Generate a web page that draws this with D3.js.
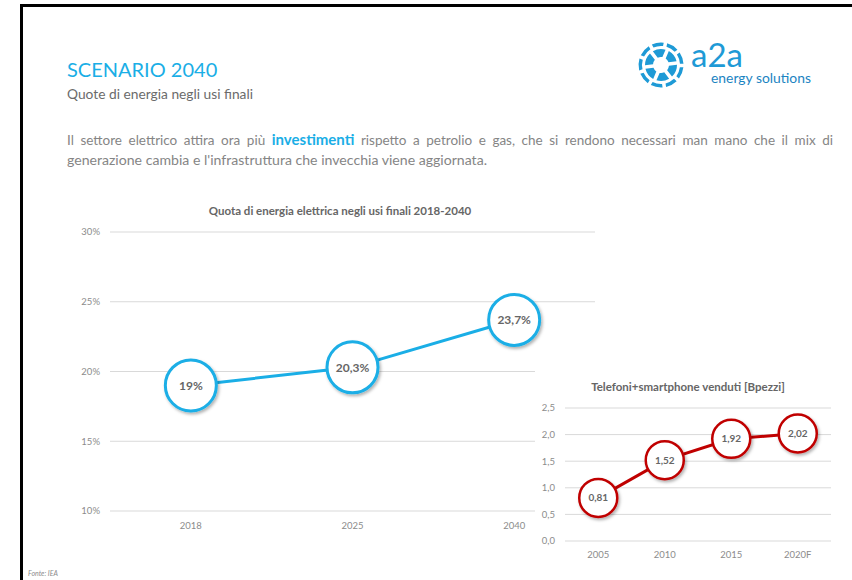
<!DOCTYPE html>
<html>
<head>
<meta charset="utf-8">
<script src="https://cdn.jsdelivr.net/npm/d3@7"></script>
<style>
  body { margin: 0; background: #fff; }
  svg { display: block; font-family: Lato, "Open Sans", sans-serif; }
</style>
</head>
<body>
<div id="chart"></div>
<script>
// ------------------------------------------------------------------
// Data
var shareYears = ["2018", "2025", "2040"];
var shareValues = [19, 20.3, 23.7];
var shareTicks = [10, 15, 20, 25, 30];

var phoneYears = ["2005", "2010", "2015", "2020F"];
var phoneValues = [0.81, 1.52, 1.92, 2.02];
var phoneTicks = [0, 0.5, 1, 1.5, 2, 2.5];

var width = 852, height = 580;
var blue = "#1aaee6", red = "#c00000", grid = "#d9d9d9", txt = "#858585";

var svg = d3.select("#chart").append("svg")
  .attr("width", width)
  .attr("height", height);

var defs = svg.append("defs");
var f = defs.append("filter").attr("id", "shadow")
  .attr("x", "-30%").attr("y", "-30%").attr("width", "160%").attr("height", "160%");
f.append("feDropShadow").attr("dx", 1.5).attr("dy", 2).attr("stdDeviation", 1.5)
  .attr("flood-color", "#000").attr("flood-opacity", 0.3);

// frame (left + top)
svg.append("path")
  .attr("d", "M21.5,580 V5.5 H852")
  .attr("fill", "none").attr("stroke", "#000").attr("stroke-width", 3);

// ------------------------------------------------------------------
// Header
svg.append("text").attr("x", 67).attr("y", 77)
  .attr("font-size", 20).attr("fill", blue).text("SCENARIO 2040");
svg.append("text").attr("x", 67).attr("y", 99)
  .attr("font-size", 13.5).attr("fill", "#6b6b6b")
  .attr("textLength", 186).attr("lengthAdjust", "spacingAndGlyphs")
  .text("Quote di energia negli usi finali");

// paragraph : first line justified by word spacing
var p1 = svg.append("text").attr("x", 67).attr("y", 145)
  .attr("font-size", 13.5).attr("fill", txt);
p1.append("tspan").text("Il settore elettrico attira ora più ");
p1.append("tspan").attr("font-weight", "bold").attr("fill", blue).attr("font-size", 15).text("investimenti");
p1.append("tspan").text(" rispetto a petrolio e gas, che si rendono necessari man mano che il mix di");
var natural = p1.node().getComputedTextLength();
var nSpaces = p1.text().split(" ").length - 1;
if (natural < 766) {
  p1.attr("word-spacing", (766 - natural) / nSpaces);
} else {
  p1.attr("textLength", 766).attr("lengthAdjust", "spacingAndGlyphs");
}
svg.append("text").attr("x", 67).attr("y", 165)
  .attr("font-size", 13.5).attr("fill", txt)
  .attr("textLength", 420).attr("lengthAdjust", "spacingAndGlyphs")
  .text("generazione cambia e l'infrastruttura che invecchia viene aggiornata.");

// logo
var logo = svg.append("g").attr("transform", "translate(661,65)");
var logoBlue = "#1e9ad6";
var outerArc = d3.arc().innerRadius(19).outerRadius(22.5).padAngle(0.12);
var innerArc = d3.arc().innerRadius(8).outerRadius(16).padAngle(0.2);
d3.range(9).forEach(function(i) {
  logo.append("path").attr("fill", logoBlue)
    .attr("d", outerArc({ startAngle: i * 2 * Math.PI / 9 + 0.2, endAngle: (i + 1) * 2 * Math.PI / 9 + 0.2 }));
});
d3.range(6).forEach(function(i) {
  logo.append("path").attr("fill", logoBlue)
    .attr("d", innerArc({ startAngle: i * Math.PI / 3 + 0.4, endAngle: (i + 1) * Math.PI / 3 + 0.4 }));
});
svg.append("text").attr("x", 691).attr("y", 67)
  .attr("font-size", 33).attr("fill", logoBlue)
  .attr("textLength", 52).attr("lengthAdjust", "spacingAndGlyphs").text("a2a");
svg.append("text").attr("x", 711).attr("y", 83)
  .attr("font-size", 13.5).attr("fill", "#1b84c2")
  .attr("textLength", 100).attr("lengthAdjust", "spacingAndGlyphs").text("energy solutions");

// ------------------------------------------------------------------
// Chart 1 : quota energia elettrica
var x1 = d3.scalePoint().domain(shareYears).range([110, 595]).padding(0.5);
var y1 = d3.scaleLinear().domain([10, 30]).range([511, 232]);

var c1 = svg.append("g");
c1.append("text").attr("x", 340).attr("y", 215).attr("text-anchor", "middle")
  .attr("font-size", 11.5).attr("font-weight", "bold").attr("fill", "#666")
  .text("Quota di energia elettrica negli usi finali 2018-2040");

c1.append("g").selectAll("line").data(shareTicks).enter().append("line")
  .attr("x1", 110).attr("x2", 595)
  .attr("y1", function(d) { return y1(d); }).attr("y2", function(d) { return y1(d); })
  .attr("stroke", grid).attr("stroke-width", 1);
c1.append("g").selectAll("text").data(shareTicks).enter().append("text")
  .attr("x", 100).attr("y", function(d) { return y1(d); }).attr("dy", "0.35em")
  .attr("text-anchor", "end").attr("font-size", 9.5).attr("fill", "#8c8c8c")
  .text(function(d) { return d + "%"; });
c1.append("g").selectAll("text").data(shareYears).enter().append("text")
  .attr("x", function(d) { return x1(d); }).attr("y", 526).attr("dy", "0.35em")
  .attr("text-anchor", "middle").attr("font-size", 9.5).attr("fill", "#8c8c8c")
  .text(function(d) { return d; });

var line1 = d3.line().x(function(d, i) { return x1(shareYears[i]); }).y(function(d) { return y1(d); });
c1.append("path").datum(shareValues).attr("d", line1)
  .attr("fill", "none").attr("stroke", blue).attr("stroke-width", 3);

var pts1 = c1.selectAll(".pt").data(shareValues).enter().append("g")
  .attr("transform", function(d, i) { return "translate(" + x1(shareYears[i]) + "," + y1(d) + ")"; });
pts1.append("circle").attr("r", 25.5).attr("fill", "#fff")
  .attr("stroke", blue).attr("stroke-width", 3).attr("filter", "url(#shadow)");
pts1.append("text").attr("dy", "0.35em").attr("text-anchor", "middle")
  .attr("font-size", 12).attr("font-weight", "bold").attr("fill", "#666")
  .text(function(d) { return String(d).replace(".", ",") + "%"; });

// ------------------------------------------------------------------
// Chart 2 : telefoni venduti
var x2 = d3.scalePoint().domain(phoneYears).range([565, 831]).padding(0.5);
var y2 = d3.scaleLinear().domain([0, 2.5]).range([541, 408]);

var c2 = svg.append("g");
c2.append("rect").attr("x", 535).attr("y", 366).attr("width", 317).attr("height", 214).attr("fill", "#fff");
c2.append("text").attr("x", 688).attr("y", 391).attr("text-anchor", "middle")
  .attr("font-size", 11.5).attr("font-weight", "bold").attr("fill", "#666")
  .text("Telefoni+smartphone venduti [Bpezzi]");

c2.append("g").selectAll("line").data(phoneTicks).enter().append("line")
  .attr("x1", 565).attr("x2", 831)
  .attr("y1", function(d) { return y2(d); }).attr("y2", function(d) { return y2(d); })
  .attr("stroke", grid).attr("stroke-width", 1);
c2.append("g").selectAll("text").data(phoneTicks).enter().append("text")
  .attr("x", 555).attr("y", function(d) { return y2(d); }).attr("dy", "0.35em")
  .attr("text-anchor", "end").attr("font-size", 9.5).attr("fill", "#8c8c8c")
  .text(function(d) { return d3.format(".1f")(d).replace(".", ","); });
c2.append("g").selectAll("text").data(phoneYears).enter().append("text")
  .attr("x", function(d) { return x2(d); }).attr("y", 555).attr("dy", "0.35em")
  .attr("text-anchor", "middle").attr("font-size", 9.5).attr("fill", "#8c8c8c")
  .text(function(d) { return d; });

var line2 = d3.line().x(function(d, i) { return x2(phoneYears[i]); }).y(function(d) { return y2(d); });
c2.append("path").datum(phoneValues).attr("d", line2)
  .attr("fill", "none").attr("stroke", red).attr("stroke-width", 3);

var pts2 = c2.selectAll(".pt").data(phoneValues).enter().append("g")
  .attr("transform", function(d, i) { return "translate(" + x2(phoneYears[i]) + "," + y2(d) + ")"; });
pts2.append("circle").attr("r", 19).attr("fill", "#fff")
  .attr("stroke", red).attr("stroke-width", 2.5).attr("filter", "url(#shadow)");
pts2.append("text").attr("dy", "0.35em").attr("text-anchor", "middle")
  .attr("font-size", 10).attr("font-weight", "bold").attr("fill", "#666")
  .text(function(d) { return d3.format(".2f")(d).replace(".", ","); });

// footer
svg.append("text").attr("x", 28).attr("y", 576)
  .attr("font-size", 7).attr("font-style", "italic").attr("fill", "#8c8c8c").text("Fonte: IEA");
</script>
</body>
</html>
